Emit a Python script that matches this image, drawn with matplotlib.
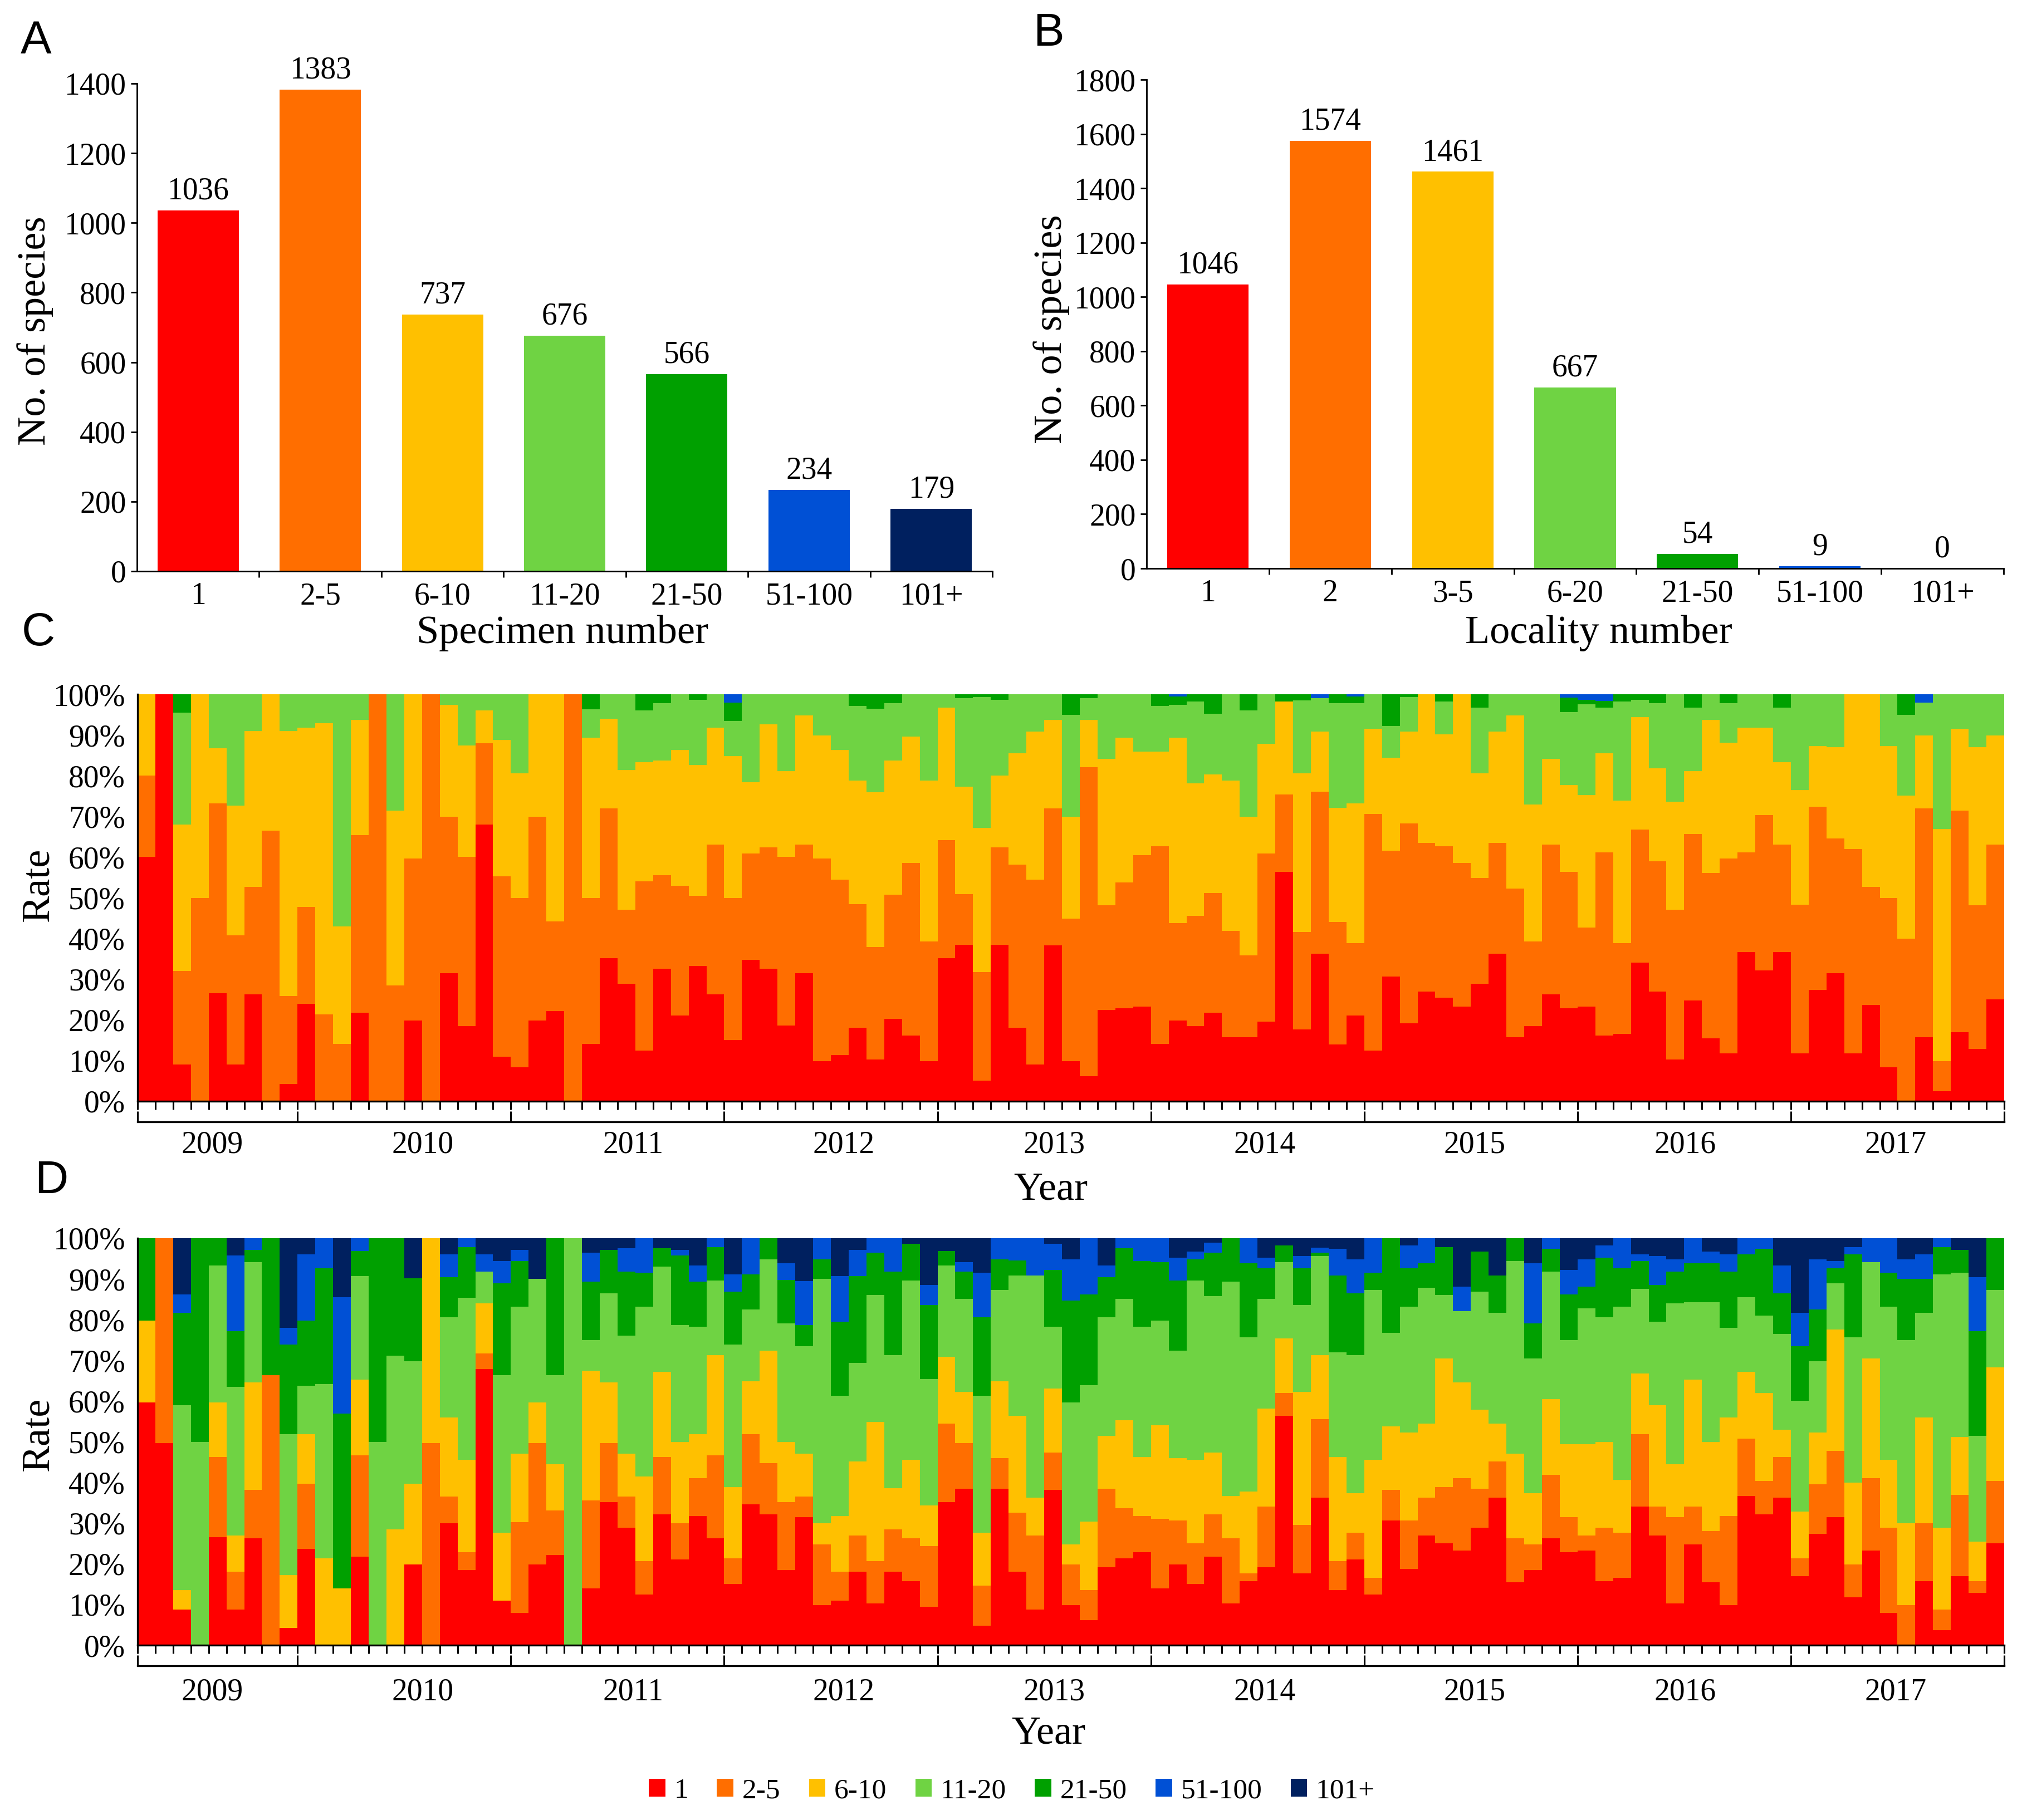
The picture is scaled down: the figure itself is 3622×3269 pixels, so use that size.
import numpy as np
import matplotlib
matplotlib.use('Agg')
import matplotlib.pyplot as plt
from matplotlib.patches import Patch

plt.rcParams['font.family'] = ['Liberation Serif', 'DejaVu Serif']

# ---------------- data ----------------
spec_cats = ['1', '2-5', '6-10', '11-20', '21-50', '51-100', '101+']
spec_counts = [1036, 1383, 737, 676, 566, 234, 179]
loc_cats = ['1', '2', '3-5', '6-20', '21-50', '51-100', '101+']
loc_counts = [1046, 1574, 1461, 667, 54, 9, 0]

legend_labels = ['1', '2-5', '6-10', '11-20', '21-50', '51-100', '101+']
colors = ['#FF0000', '#FF6E00', '#FFC000', '#6FD343', '#00A000', '#0050D5', '#00205F']

years = ['2009', '2010', '2011', '2012', '2013', '2014', '2015', '2016', '2017']
months_in_year = [9, 12, 12, 12, 12, 12, 12, 12, 12]

# Panel C (specimen-number classes per month, %)
c_1 = [60, 100, 9, 0, 26.6, 9, 26.3, 0, 4.2, 24,
       0, 0, 21.8, 0, 0, 19.9, 0, 31.4, 18.5, 68,
       10.9, 8.3, 19.9, 22.1, 0, 14.1, 35.2, 28.8, 12.4, 32.5,
       21.1, 33.3, 26.3, 15, 34.8, 32.5, 18.6, 31.5, 9.9, 11.4,
       18, 10.2, 20.3, 16.2, 9.9, 35.2, 38.5, 5, 38.5, 18,
       9, 38.3, 9.9, 6.2, 22.5, 22.9, 23.2, 14.1, 19.9, 18.4,
       21.8, 15.8, 15.8, 19.5, 56.4, 17.7, 36.3, 13.9, 21, 12.4,
       30.7, 19.2, 26.9, 25.4, 23.3, 28.8, 36.3, 15.8, 18.4, 26.2,
       22.9, 23.2, 16.1, 16.5, 34, 26.9, 10.2, 24.7, 15.4, 11.7,
       36.7, 32.2, 36.7, 11.7, 27.3, 31.4, 11.7, 23.6, 8.3, 0,
       15.8, 2.4, 16.9, 12.9, 25.1]
c_2_5 = [20, 0, 23, 50, 46.6, 31.7, 26.4, 66.5, 21.7, 23.8,
         21.4, 14.1, 43.6, 100, 28.4, 39.8, 100, 38.5, 41.6, 20,
         44.4, 41.6, 50, 22.1, 100, 35.8, 36.8, 18.3, 41.7, 23.1,
         31.9, 17.2, 36.8, 34.9, 26.1, 29.9, 41.5, 31.6, 49.8, 43.1,
         30.4, 27.7, 30.5, 42.4, 29.3, 29, 12.4, 26.8, 23.9, 40.2,
         45.5, 33.7, 35, 75.9, 25.7, 30.8, 37.3, 48.6, 23.9, 27.2,
         29.4, 26, 20.1, 41.4, 19, 23.9, 39.8, 30.2, 17.8, 58.2,
         30.9, 49.1, 36.6, 37.3, 35.3, 26.1, 27.2, 36.5, 20.8, 36.9,
         33.5, 19.5, 45.1, 22.3, 32.8, 32.1, 36.9, 40.9, 40.7, 48,
         24.5, 38.1, 26.4, 36.6, 45.1, 33.2, 50.3, 29.1, 41.6, 39.9,
         56.2, 7.5, 54.5, 35.3, 38]
c_6_10 = [20, 0, 36, 50, 13.5, 32, 38.3, 33.5, 65.1, 44,
          71.5, 28.9, 28.3, 0, 43, 40.3, 0, 27.5, 27.3, 8,
          33.5, 30.7, 30.1, 55.8, 0, 39.4, 22, 34.3, 29.2, 28.1,
          33.3, 32.1, 28.7, 34.9, 17.5, 30.2, 21, 31.7, 30.2, 31.8,
          30.4, 38, 32.9, 31, 39.6, 32.5, 26.4, 35.4, 17.6, 27.3,
          36.3, 21.7, 25, 11.6, 35.9, 35.6, 25.4, 23.2, 45.5, 32.5,
          29.1, 37, 34, 26.9, 22.8, 39, 14.7, 28, 34.4, 20.9,
          22.8, 22.5, 36.5, 27.4, 41.4, 25.7, 27.3, 42.5, 33.7, 21,
          21.3, 32.6, 24.3, 35.1, 27.6, 22.8, 26.5, 15.5, 37.6, 28.4,
          30.6, 21.5, 20.2, 28.2, 14.9, 22.4, 38, 47.3, 37.4, 35.2,
          17.9, 57, 20.1, 38.8, 26.8]
c_11_20 = [0, 0, 27.5, 0, 13.3, 27.3, 9, 0, 9, 8.2,
           7.1, 57, 6.3, 0, 28.6, 0, 0, 2.6, 12.6, 4,
           11.2, 19.4, 0, 0, 0, 7, 6, 18.6, 12.7, 14.1,
           13.7, 16, 8.2, 8.6, 21.6, 7.4, 18.9, 5.2, 10.1, 13.7,
           18.3, 20.5, 14.1, 10.4, 21.2, 3.3, 21.8, 32.1, 18.6, 14.5,
           9.2, 6.3, 25, 5.3, 15.9, 10.7, 14.1, 11.2, 8.1, 20.1,
           14.9, 21.2, 26.1, 12.2, 0, 17.9, 8.2, 25.7, 24.6, 8.5,
           7.8, 8.5, 0, 8.1, 0, 16.1, 9.2, 5.2, 27.1, 15.9,
           17.9, 22.2, 11.2, 24.3, 4.2, 16, 26.4, 15.6, 6.3, 9.7,
           8.2, 8.2, 13.4, 23.5, 12.7, 13, 0, 0, 12.7, 19.8,
           8, 33.1, 8.5, 13, 10.1]
c_21_50 = [0, 0, 4.5, 0, 0, 0, 0, 0, 0, 0,
           0, 0, 0, 0, 0, 0, 0, 0, 0, 0,
           0, 0, 0, 0, 0, 3.7, 0, 0, 4, 2.2,
           0, 1.4, 0, 4.5, 0, 0, 0, 0, 0, 0,
           2.9, 3.6, 2.2, 0, 0, 0, 0.9, 0.7, 1.4, 0,
           0, 0, 5.1, 1, 0, 0, 0, 2.9, 2, 1.8,
           4.8, 0, 4, 0, 1.8, 1.5, 0, 2.2, 1.6, 0,
           7.8, 0.7, 0, 1.8, 0, 3.3, 0, 0, 0, 0,
           3.6, 1.1, 1.6, 1.8, 1.4, 2.2, 0, 3.3, 0, 2.2,
           0, 0, 3.3, 0, 0, 0, 0, 0, 0, 5.1,
           0, 0, 0, 0, 0]
c_51_100 = [0, 0, 0, 0, 0, 0, 0, 0, 0, 0,
            0, 0, 0, 0, 0, 0, 0, 0, 0, 0,
            0, 0, 0, 0, 0, 0, 0, 0, 0, 0,
            0, 0, 0, 2.1, 0, 0, 0, 0, 0, 0,
            0, 0, 0, 0, 0, 0, 0, 0, 0, 0,
            0, 0, 0, 0, 0, 0, 0, 0, 0.6, 0,
            0, 0, 0, 0, 0, 0, 1, 0, 0.6, 0,
            0, 0, 0, 0, 0, 0, 0, 0, 0, 0,
            0.8, 1.4, 1.7, 0, 0, 0, 0, 0, 0, 0,
            0, 0, 0, 0, 0, 0, 0, 0, 0, 0,
            2.1, 0, 0, 0, 0]
c_101 = [0] * 105

# Panel D (locality-number classes per month, %)
d_1 = [59.7, 49.7, 8.7, 0, 26.6, 8.8, 26.2, 0, 4.3, 23.6,
       0, 0, 21.7, 0, 0, 19.9, 0, 30, 18.4, 67.9,
       10.9, 7.9, 19.9, 22.1, 0, 13.9, 35.1, 28.9, 12.4, 32.2,
       21, 31.8, 26.2, 15.1, 34.6, 32.2, 18.4, 31.5, 9.9, 10.9,
       18, 10.2, 18, 15.8, 9.5, 35.1, 38.5, 4.8, 38.5, 18,
       8.8, 38.1, 9.9, 6.1, 19.2, 21.4, 22.9, 13.9, 19.9, 15.1,
       21.7, 10.2, 15.8, 19.2, 56.4, 17.7, 36.3, 13.6, 21, 12.4,
       30.7, 18.8, 26.9, 25.1, 23.2, 28.9, 36.3, 15.4, 18.4, 26.2,
       22.9, 23.2, 15.8, 16.6, 34, 26.9, 10.2, 24.7, 15.4, 9.9,
       36.6, 32.2, 36.3, 16.9, 27.3, 31.5, 11.7, 23.2, 7.9, 0,
       15.8, 3.7, 16.9, 12.8, 25.1]
d_2_5 = [0, 50.3, 0, 0, 19.7, 9.2, 11.9, 66.4, 0, 16.1,
         0, 0, 25, 0, 0, 0, 49.7, 6.5, 4.4, 3.8,
         0, 22.4, 29.8, 11, 0, 21.6, 14.6, 7.6, 8.3, 14.1,
         9, 9.2, 20.5, 6.2, 17.3, 12.6, 16.7, 5, 14.8, 7.1,
         8.9, 10.5, 10.4, 10.4, 14.8, 19.4, 11.2, 9.9, 7.4, 14.5,
         18.1, 9.3, 10, 7.5, 19.3, 12.2, 8.9, 17.1, 10.8, 10,
         10.5, 16, 1.9, 14.8, 5.6, 11.9, 19.3, 7.1, 6.7, 4.2,
         7.4, 11.9, 9.4, 13.7, 17.8, 9.6, 8.9, 10.8, 6.3, 15.6,
         8.6, 3.8, 13.1, 11.1, 17.8, 7.1, 21.3, 9.3, 12.7, 21.9,
         14.1, 8.1, 10, 4.5, 12.2, 16.3, 8.2, 17.8, 21, 9.9,
         14.2, 5, 20.1, 3, 15.2]
d_6_10 = [20.1, 0, 4.8, 0, 13.4, 8.9, 26.5, 0, 13, 12.2,
          21.4, 13.9, 18.6, 0, 28.4, 19.8, 50.3, 19.5, 22.8, 12.3,
          16.8, 16.8, 10, 11.3, 0, 32, 14.9, 10.6, 20.7, 20.8,
          19.9, 10.8, 24.6, 17.5, 13, 27.6, 14.8, 10.6, 5.3, 13.8,
          18.3, 34.2, 10.2, 19.4, 10, 16.4, 12.6, 13, 19, 23.9,
          9.4, 15.6, 4.9, 16.8, 13, 21.6, 14.5, 23.1, 15.2, 20.5,
          15.2, 10.4, 20, 24.2, 13.4, 32.7, 15.7, 25.6, 9.7, 29,
          15.6, 21.5, 18.2, 31.7, 23.6, 19.4, 9.3, 20.9, 12.7, 18.7,
          17.9, 22.4, 21, 12.9, 15, 25, 12.9, 31.3, 21.9, 24.2,
          16.5, 21.7, 6.7, 11.5, 12.7, 29.8, 20, 29.5, 16.7, 20.1,
          26, 20.2, 14.2, 9.7, 28]
d_11_20 = [0, 0, 45.5, 49.9, 33.6, 36.6, 29.5, 0, 34.5, 11.9,
           42.8, 0, 25.4, 49.9, 42.8, 30.1, 0, 24.6, 39.7, 7.8,
           38.7, 36.1, 30.3, 22, 100, 7.5, 21.9, 29, 41.8, 25.9,
           28.8, 26.5, 18.3, 35.1, 17.6, 22.4, 29.2, 26.4, 60, 29.5,
           24.2, 31.2, 32.7, 44, 31.1, 22.4, 22.8, 33.6, 22.4, 34.4,
           54.5, 15.3, 34.9, 33.5, 29.1, 29.9, 32, 25.7, 26.5, 44,
           38.4, 52.7, 38, 26.9, 18.7, 21.3, 24.3, 25.7, 33.9, 41.7,
           23.1, 31, 33.3, 15.6, 17.5, 29, 27.2, 47.3, 33.1, 31.3,
           25.6, 33.4, 30.7, 42.6, 20.8, 20.5, 39.6, 19, 34.3, 22,
           18.3, 19, 23.5, 27.2, 17.6, 11.3, 35.8, 23.6, 37.6, 45,
           25.7, 62.2, 40.3, 26, 19]
d_21_50 = [20.2, 0, 22.7, 50.1, 6.7, 13.6, 3, 33.6, 22.1, 16,
           28.4, 43, 6.1, 50.1, 28.8, 20.3, 0, 9.8, 12.5, 0,
           22.5, 11.2, 0, 33.6, 0, 14.3, 10.6, 15.7, 8.3, 4.5,
           17, 11, 8.2, 13, 8.6, 5.2, 10.6, 5.2, 4.8, 18.2,
           21.3, 10.4, 20.5, 9, 18.2, 3.5, 6.7, 19.3, 7.5, 3.7,
           0, 13.9, 25, 22.3, 9.8, 12.5, 16.1, 14.3, 17.2, 5.2,
           10.6, 10.7, 18.1, 7.5, 4.1, 9, 0.8, 18.8, 15.2, 4.2,
           23.2, 9.4, 6, 11.7, 0, 9.8, 9.1, 5.6, 8.6, 5.6,
           11.2, 5.3, 14.6, 9.4, 6.8, 9, 7.8, 9.5, 9.5, 13.8,
           10.5, 16.4, 10, 13.4, 12.7, 3.7, 20.3, 0, 8.3, 15,
           8.3, 6.7, 5.6, 25.7, 12.7]
d_51_100 = [0, 0, 4.5, 0, 0, 18.6, 2.9, 0, 4.1, 16.2,
            7.4, 28.6, 3.2, 0, 0, 0, 0, 5.6, 2.2, 4.2,
            5.5, 2.7, 0, 0, 0, 7.1, 0, 5.7, 8.5, 0,
            1.4, 4, 2.2, 4.2, 8.9, 0, 4.1, 10.8, 5.2, 11.2,
            6.4, 3.5, 8.2, 0, 4.9, 0, 2.3, 10.9, 5.2, 5.5,
            9.2, 6.4, 10.1, 13.8, 2.9, 2.4, 5.6, 5.9, 5.6, 1.9,
            2.5, 0, 6.2, 2.6, 0, 3, 1.3, 6.6, 8.3, 8.5,
            0, 5.6, 6.2, 0, 6, 0, 0, 0, 14.7, 2.6,
            6, 6.7, 3, 7.4, 1.6, 7.1, 3, 6.2, 2.9, 4.2,
            4, 2.6, 6.8, 8.2, 12.3, 1.8, 1.8, 5.9, 8.5, 4.8,
            6, 2.2, 0, 13.2, 0]
d_101 = [0, 0, 13.8, 0, 0, 4.3, 0, 0, 22, 4,
         0, 14.5, 0, 0, 0, 9.9, 0, 4, 0, 4,
         5.6, 2.9, 10, 0, 0, 3.6, 2.9, 2.5, 0, 2.5,
         2.9, 6.7, 0, 8.9, 0, 0, 6.2, 10.5, 0, 9.3,
         2.9, 0, 0, 1.4, 11.5, 3.2, 5.9, 8.5, 0, 0,
         0, 1.4, 5.2, 0, 6.7, 0, 0, 0, 4.8, 3.3,
         1.1, 0, 0, 4.8, 1.8, 4.4, 2.3, 2.6, 5.2, 0,
         0, 1.8, 0, 2.2, 11.9, 3.3, 9.2, 0, 6.2, 0,
         7.8, 5.2, 1.8, 0, 4, 4.4, 5.2, 0, 3.3, 4,
         0, 0, 6.7, 18.3, 5.2, 5.6, 2.2, 0, 0, 5.2,
         4, 0, 2.9, 9.6, 0]

# ---------------- figure ----------------
W, H = 3622, 3269
DPI = 200
fig = plt.figure(figsize=(W / DPI, H / DPI), dpi=DPI)


def fx(px):
    return px / W


def fy(py):
    return 1 - py / H


def axes_from_px(left, top, right, bottom):
    return fig.add_axes([fx(left), fy(bottom), fx(right) - fx(left), fy(top) - fy(bottom)])


TICK_FS = 20
LABEL_FS = 26


def bar_panel(ax, cats, counts, ymax, step):
    x = np.arange(len(cats))
    bars = ax.bar(x, counts, width=0.665, color=colors, linewidth=0)
    ax.bar_label(bars, labels=[str(c) for c in counts], padding=3, fontsize=TICK_FS)
    ax.set_xlim(-0.5, len(cats) - 0.5)
    ax.set_ylim(0, ymax)
    ax.set_yticks(np.arange(0, ymax + 1, step))
    ax.set_xticks(x)
    ax.set_xticklabels(cats)
    ax.set_xticks(np.arange(0.5, len(cats), 1), minor=True)
    ax.tick_params(axis='x', which='major', length=0, pad=7, labelsize=TICK_FS)
    ax.tick_params(axis='x', which='minor', length=4, width=1.0, direction='out')
    ax.tick_params(axis='y', length=4, width=1.0, direction='out', pad=3, labelsize=TICK_FS)
    for s in ['top', 'right']:
        ax.spines[s].set_visible(False)
    for s in ['left', 'bottom']:
        ax.spines[s].set_linewidth(1.0)


axA = axes_from_px(246, 150, 1782, 1026)
bar_panel(axA, spec_cats, spec_counts, 1400, 200)
axB = axes_from_px(2059, 143, 3598, 1021)
bar_panel(axB, loc_cats, loc_counts, 1800, 200)

fig.text(fx(63), fy(594), 'No. of species', rotation=90, ha='center', va='center', fontsize=LABEL_FS)
fig.text(fx(1010), fy(1137), 'Specimen number', ha='center', va='center', fontsize=LABEL_FS)
fig.text(fx(1888), fy(591), 'No. of species', rotation=90, ha='center', va='center', fontsize=LABEL_FS)
fig.text(fx(2871), fy(1137), 'Locality number', ha='center', va='center', fontsize=LABEL_FS)

n_months = len(c_1)
year_bounds = np.concatenate([[0], np.cumsum(months_in_year)]) - 0.5
year_label_x = np.linspace(3.7, 98.4, len(years))


def stacked_panel(ax, series, year_y):
    x = np.arange(n_months)
    data = np.array(series, dtype=float)
    rates = data / data.sum(axis=0) * 100
    bottom = np.zeros(n_months)
    for r, col in zip(rates, colors):
        ax.bar(x, r, width=1.0, bottom=bottom, color=col, linewidth=0, antialiased=False)
        bottom += r
    ax.set_xlim(-0.5, n_months - 0.5)
    ax.set_ylim(0, 100)
    ax.set_yticks(np.arange(0, 101, 10))
    ax.set_yticklabels([f'{v}%' for v in range(0, 101, 10)])
    ax.set_xticks(np.arange(-0.5, n_months, 1))
    ax.set_xticklabels([])
    ax.tick_params(axis='x', length=5.5, width=1.1, direction='out')
    ax.tick_params(axis='y', length=0, pad=8, labelsize=TICK_FS)
    for s in ['top', 'right']:
        ax.spines[s].set_visible(False)
    for s in ['left', 'bottom']:
        ax.spines[s].set_linewidth(1.2)
    sec = ax.secondary_xaxis(-0.05)
    sec.set_xticks(year_bounds)
    sec.set_xticklabels([])
    sec.tick_params(direction='in', length=7, width=1.1)
    sec.spines['bottom'].set_linewidth(1.2)
    for lbl, xp in zip(years, year_label_x):
        ax.text(xp, year_y, lbl, transform=ax.get_xaxis_transform(),
                ha='center', va='center', fontsize=TICK_FS)


axC = axes_from_px(247, 1247, 3599, 1978)
stacked_panel(axC, [c_1, c_2_5, c_6_10, c_11_20, c_21_50, c_51_100, c_101], -0.108)
axD = axes_from_px(247, 2224, 3599, 2955)
stacked_panel(axD, [d_1, d_2_5, d_6_10, d_11_20, d_21_50, d_51_100, d_101], -0.115)

fig.text(fx(69), fy(1589), 'Rate', rotation=90, ha='center', va='center', fontsize=LABEL_FS)
fig.text(fx(1887), fy(2137), 'Year', ha='center', va='center', fontsize=LABEL_FS)
fig.text(fx(69), fy(2576), 'Rate', rotation=90, ha='center', va='center', fontsize=LABEL_FS)
fig.text(fx(1883), fy(3114), 'Year', ha='center', va='center', fontsize=LABEL_FS)

# panel letters
for letter, (px, py) in zip('ABCD', [(65, 74), (1883, 60), (69, 1137), (92, 2121)]):
    fig.text(fx(px), fy(py), letter, ha='center', va='center', fontsize=30,
             family=['Liberation Sans', 'DejaVu Sans'])

handles = [Patch(facecolor=c, edgecolor='none') for c in colors]
fig.legend(handles, legend_labels, loc='center', bbox_to_anchor=(fx(1817), fy(3217)),
           ncol=7, frameon=False, handlelength=0.58, handleheight=0.6,
           handletextpad=0.3, columnspacing=1.0, fontsize=18.5)

fig.savefig('out.png', dpi=DPI)
